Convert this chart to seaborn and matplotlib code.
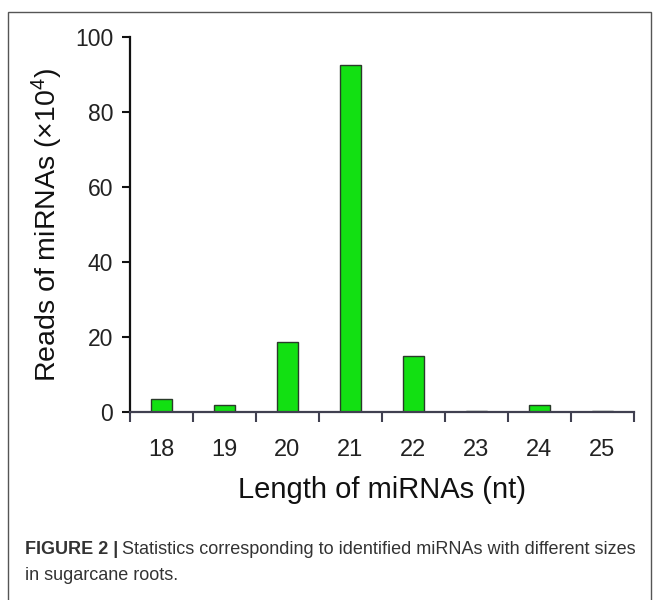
import matplotlib
matplotlib.use("Agg")
import matplotlib.pyplot as plt
import seaborn as sns
import pandas as pd
from matplotlib.patches import Rectangle

lengths = ["18", "19", "20", "21", "22", "23", "24", "25"]
reads = [3.5, 1.8, 18.6, 92.6, 15.1, 0.4, 1.8, 0.4]
y_ticks = [0, 20, 40, 60, 80, 100]

sns.set_theme(style="white")
plt.rcParams['font.family'] = ['Liberation Sans', 'DejaVu Sans']
plt.rcParams['mathtext.fontset'] = 'custom'
plt.rcParams['mathtext.rm'] = 'Liberation Sans'
plt.rcParams['mathtext.it'] = 'Liberation Sans'

df = pd.DataFrame({"length": lengths, "reads": reads})

fig = plt.figure(figsize=(6.59, 6.0), dpi=100)
ax = fig.add_axes([0.197, 0.313, 0.765, 0.625])

sns.barplot(data=df, x="length", y="reads", ax=ax, color="#12e012",
            saturation=1, width=0.33, edgecolor="#2a3a2a", linewidth=1.0)

ax.set_xlim(-0.5, len(lengths) - 0.5)
ax.set_ylim(0, 100)
ax.set_yticks(y_ticks)
ax.set_yticklabels([str(t) for t in y_ticks], fontsize=16.5, color="#222222")

ax.set_xticks([i - 0.5 for i in range(len(lengths) + 1)])
ax.set_xticklabels([])
ax.set_xticks(range(len(lengths)), minor=True)
ax.set_xticklabels(lengths, minor=True, fontsize=17, color="#222222")
ax.tick_params(axis="x", which="major", direction="out", length=7, width=1.5, color="#404050", bottom=True)
ax.tick_params(axis="x", which="minor", length=0, pad=19)
ax.tick_params(axis="y", direction="out", length=6, width=1.5, color="#111111", left=True, pad=6)

for s in ["top", "right"]:
    ax.spines[s].set_visible(False)
ax.spines["left"].set_color("#111111")
ax.spines["left"].set_linewidth(1.6)
ax.spines["bottom"].set_color("#404050")
ax.spines["bottom"].set_linewidth(1.6)

ax.set_xlabel("Length of miRNAs (nt)", fontsize=21, color="#111111", labelpad=11)
ax.set_ylabel(r"Reads of miRNAs (×10$^{4}$)", fontsize=20.5, color="#111111", labelpad=7)

fig.patches.append(Rectangle((8 / 659, -0.1), 643 / 659, 1.1 - 12 / 600,
                             transform=fig.transFigure, fill=False,
                             edgecolor="#555555", linewidth=1.0))

fig.text(25 / 659, 1 - 550 / 600, "FIGURE 2 |", fontsize=13, fontweight="bold",
         color="#333333", va="center", ha="left")
fig.text(122 / 659, 1 - 550 / 600,
         "Statistics corresponding to identified miRNAs with different sizes",
         fontsize=13, color="#333333", va="center", ha="left")
fig.text(25 / 659, 1 - 576 / 600, "in sugarcane roots.", fontsize=13,
         color="#333333", va="center", ha="left")

fig.savefig("out.png", dpi=100)
